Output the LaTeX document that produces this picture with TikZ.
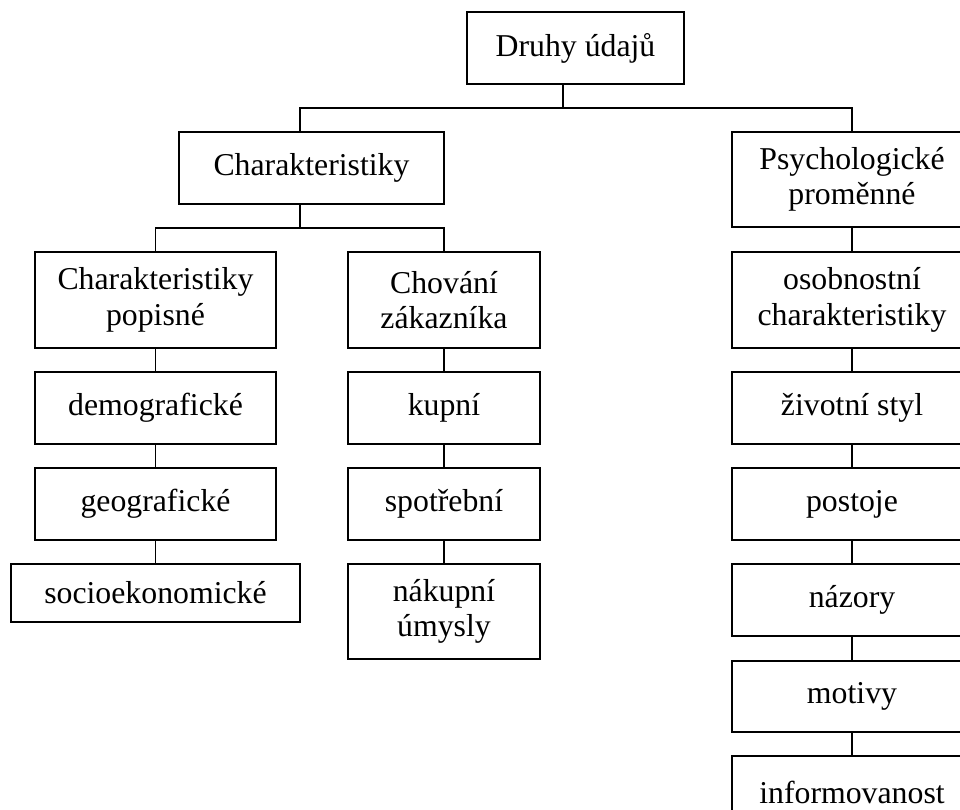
\documentclass[tikz,border=0pt]{standalone}
\usepackage{fontspec}
\setmainfont{Liberation Serif}
\begin{document}
\begin{tikzpicture}[x=0.025cm,y=-0.025cm,line width=.9pt,
  kasten/.style={draw=black,align=center,inner sep=0pt,font=\fontsize{22.6}{25.3}\selectfont},
  dims/.style args={#1 by #2}{minimum width=#1*0.025cm,minimum height=#2*0.025cm}]
\path[use as bounding box,clip] (0,0) rectangle (960,809);
% top level
\node[kasten,dims=217 by 72] (druhy) at (575.5,48) {Druhy údajů};
\node[kasten,dims=265 by 72] (char) at (311.5,168) {Charakteristiky};
\node[kasten,dims=240 by 95] (psych) at (852,179.5) {Psychologické\\proměnné};
% left branch
\node[kasten,dims=241 by 96] (popis) at (155.5,300) {Charakteristiky\\popisné};
\node[kasten,dims=241 by 72] (demo) at (155.5,408) {demografické};
\node[kasten,dims=241 by 72] (geo) at (155.5,504) {geografické};
\node[kasten,dims=289 by 58] (socio) at (155.5,593) {socioekonomické};
% middle branch
\node[kasten,dims=192 by 96] (chovani) at (444,300) {Chování\\zákazníka};
\node[kasten,dims=192 by 72] (kupni) at (444,408) {kupní};
\node[kasten,dims=192 by 72] (spotreb) at (444,504) {spotřební};
\node[kasten,dims=192 by 95] (nakup) at (444,611.5) {nákupní\\úmysly};
% right branch
\node[kasten,dims=240 by 96] (osob) at (852,300) {osobnostní\\charakteristiky};
\node[kasten,dims=240 by 72] (zivot) at (852,408) {životní styl};
\node[kasten,dims=240 by 72] (postoje) at (852,504) {postoje};
\node[kasten,dims=240 by 72] (nazory) at (852,600) {názory};
\node[kasten,dims=240 by 71] (motivy) at (852,696.5) {motivy};
\node[kasten,dims=240 by 72] (inform) at (852,792) {informovanost};
% buses
\coordinate (bus1) at (563,108);
\coordinate (bus1l) at (300,108);
\coordinate (bus2) at (300,228);
\draw (bus1 |- druhy.south) -- (bus1);
\draw (bus1l |- char.north) -- (bus1l) -| (psych.north);
\draw (bus2 |- char.south) -- (bus2);
\draw (popis.north) |- (bus2) -| (chovani.north);
% chains
\foreach \a/\b in {popis/demo,demo/geo,geo/socio,chovani/kupni,kupni/spotreb,spotreb/nakup,
  psych/osob,osob/zivot,zivot/postoje,postoje/nazory,nazory/motivy,motivy/inform}
  \draw (\a.south) -- (\b.north);
\end{tikzpicture}
\end{document}
